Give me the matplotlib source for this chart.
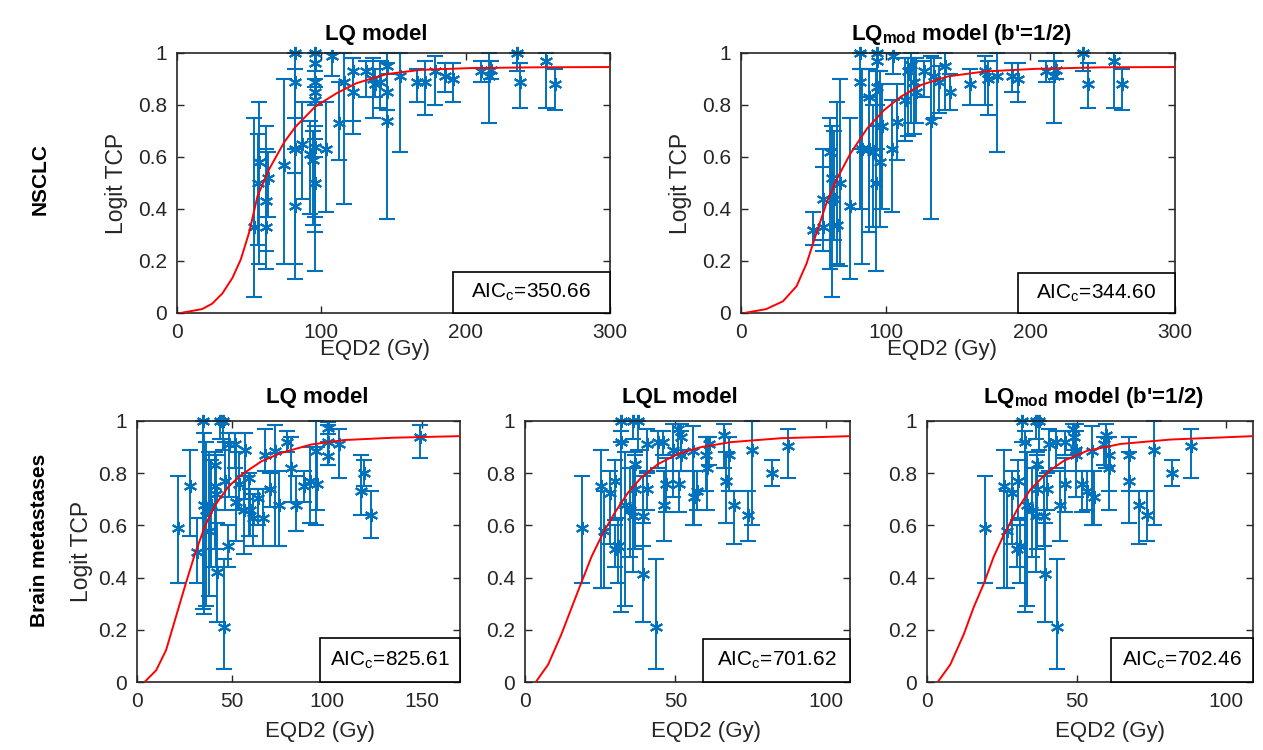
"""TCP 数据与模型拟合曲线（NSCLC / 脑转移），仿 MATLAB 风格。"""

import matplotlib

matplotlib.use("Agg")

import matplotlib.pyplot as plt
from matplotlib.patches import Rectangle
import numpy as np

plt.rcParams["font.family"] = ["Liberation Sans", "DejaVu Sans"]
plt.rcParams["mathtext.fontset"] = "custom"
plt.rcParams["mathtext.rm"] = "Liberation Sans"
plt.rcParams["mathtext.bf"] = "Liberation Sans:bold"
plt.rcParams["mathtext.it"] = "Liberation Sans:italic"

BLUE = "#0072BD"
INK = "#262626"

# ---- NSCLC, LQ model ----
nsclc_lq_x = [53.5, 56.5, 55.8, 61.6, 61.6, 62.8, 74.4, 82.1, 82.1, 82.1, 82.1, 86.7, 91.9, 94.2,
              95.8, 95.8, 95.8, 95.8, 95.8, 95.8, 95.8, 103.5, 107.7, 112.1, 115.6, 121.6, 122.1,
              130.7, 136.0, 137.2, 140.7, 145.3, 145.3, 145.3, 154.2, 166.3, 172.1, 178.6, 186.0,
              191.4, 210.5, 216.3, 217.4, 235.6, 237.9, 255.8, 262.1]
nsclc_lq_y = [0.33, 0.58, 0.50, 0.43, 0.33, 0.52, 0.57, 1.00, 0.89, 0.63, 0.41, 0.65, 0.61, 0.59,
              1.00, 0.96, 0.89, 0.85, 0.82, 0.50, 0.64, 0.63, 0.99, 0.73, 0.89, 0.93, 0.85,
              0.93, 0.90, 0.88, 0.89, 0.95, 0.85, 0.74, 0.91, 0.89, 0.89, 0.93, 0.91,
              0.90, 0.93, 0.91, 0.935, 1.00, 0.89, 0.97, 0.88]
nsclc_lq_lo = [0.06, 0.19, 0.26, 0.17, 0.24, 0.37, 0.19, 0.63, 0.54, 0.13, 0.19, 0.44, 0.38, 0.34,
               0.80, 0.72, 0.67, 0.60, 0.31, 0.16, 0.37, 0.39, 0.91, 0.59, 0.42, 0.69, 0.74,
               0.83, 0.75, 0.83, 0.79, 0.78, 0.78, 0.36, 0.62, 0.81, 0.76, 0.80, 0.85,
               0.81, 0.89, 0.73, 0.90, 0.93, 0.79, 0.79, 0.78]
nsclc_lq_hi = [0.75, 0.81, 0.69, 0.72, 0.63, 0.62, 0.90, 1.00, 0.94, 0.75, 0.54, 0.81, 0.74, 0.70,
               1.00, 1.00, 0.93, 0.90, 0.87, 0.81, 0.80, 0.81, 1.00, 0.89, 1.00, 0.98, 0.98,
               0.97, 0.98, 0.94, 0.97, 1.00, 0.92, 0.96, 1.00, 0.94, 0.97, 0.99, 0.96,
               0.96, 0.97, 1.00, 0.97, 1.00, 0.96, 1.00, 0.94]
nsclc_lq_curve_x = [2.3, 17.4, 24.4, 31.4, 38.4, 44.2, 50.0, 55.8, 64.0, 74.4, 82.1, 95.8, 110.5,
                    124.4, 145.3, 168.6, 203.5, 250.0, 300.0]
nsclc_lq_curve_y = [0.0, 0.015, 0.036, 0.075, 0.135, 0.206, 0.31, 0.45, 0.555, 0.658, 0.716, 0.794,
                    0.845, 0.884, 0.919, 0.935, 0.942, 0.945, 0.946]

# ---- NSCLC, LQmod model ----
nsclc_mod_x = [50.0, 57.0, 57.0, 61.6, 62.8, 64.0, 66.3, 68.6, 75.6, 82.1, 82.6, 83.7, 88.4, 88.4,
               91.4, 93.0, 94.2, 94.2, 94.2, 96.0, 97.2, 104.7, 105.3, 108.1, 113.5, 115.1, 117.4,
               119.8, 121.0, 126.3, 131.4, 133.7, 137.2, 140.7, 144.2, 158.1, 168.6, 170.9, 176.7,
               187.2, 191.4, 210.5, 216.3, 217.4, 236.7, 240.2, 257.7, 263.5]
nsclc_mod_y = [0.32, 0.33, 0.44, 0.62, 0.52, 0.44, 0.34, 0.50, 0.41, 1.00, 0.89, 0.63, 0.83, 0.63,
               0.62, 0.50, 1.00, 0.97, 0.87, 0.58, 0.72, 0.63, 0.99, 0.735, 0.82, 0.93, 0.955,
               0.89, 0.85, 0.93, 0.74, 0.91, 0.89, 0.95, 0.85, 0.88, 0.93, 0.90, 0.91,
               0.91, 0.90, 0.93, 0.91, 0.935, 1.00, 0.88, 0.97, 0.88]
nsclc_mod_lo = [0.26, 0.24, 0.28, 0.17, 0.06, 0.28, 0.19, 0.18, 0.13, 0.63, 0.40, 0.19, 0.31, 0.31,
                0.33, 0.16, 0.80, 0.72, 0.63, 0.33, 0.40, 0.39, 0.92, 0.59, 0.66, 0.68, 0.73,
                0.69, 0.73, 0.83, 0.36, 0.75, 0.77, 0.78, 0.78, 0.80, 0.80, 0.76, 0.62,
                0.85, 0.81, 0.89, 0.73, 0.90, 0.93, 0.79, 0.79, 0.78]
nsclc_mod_hi = [0.39, 0.56, 0.63, 0.75, 0.72, 0.70, 0.81, 0.90, 0.75, 1.00, 0.94, 0.94, 0.94, 0.83,
                0.80, 0.93, 1.00, 1.00, 0.93, 0.93, 0.88, 0.82, 1.00, 0.88, 0.98, 0.98, 1.00,
                0.98, 0.98, 0.97, 0.99, 0.98, 0.95, 1.00, 0.92, 0.94, 0.99, 0.97, 1.00,
                0.96, 0.96, 0.97, 1.00, 0.97, 1.00, 0.96, 1.00, 0.94]
nsclc_mod_curve_x = [2.3, 17.4, 29.0, 38.4, 45.3, 52.3, 59.3, 66.3, 75.6, 87.2, 98.8, 110.5, 124.4,
                     143.0, 168.6, 203.5, 250.0, 300.0]
nsclc_mod_curve_y = [0.0, 0.015, 0.045, 0.103, 0.19, 0.31, 0.426, 0.516, 0.613, 0.71, 0.78, 0.832,
                     0.877, 0.91, 0.929, 0.939, 0.945, 0.946]

# ---- Brain metastases, LQ model ----
brain_lq_x = [21.4, 27.8, 31.8, 34.7, 35.2, 36.1, 37.8, 38.7, 41.0, 41.0, 41.7, 42.2, 43.9, 45.1,
              45.7, 46.5, 47.7, 48.3, 51.4, 52.1, 53.5, 56.1, 57.0, 58.7, 59.5, 61.3, 63.9, 66.5,
              67.4, 70.0, 72.6, 74.7, 79.0, 80.9, 83.9, 87.8, 90.8, 94.3, 94.8, 100.3, 100.3,
              100.3, 106.1, 117.7, 119.4, 123.4, 149.0]
brain_lq_y = [0.59, 0.75, 0.50, 1.00, 0.68, 0.66, 0.58, 0.68, 0.83, 0.75, 0.72, 0.42, 1.00, 1.00,
              0.21, 0.77, 0.52, 0.91, 0.91, 0.69, 0.76, 0.66, 0.89, 0.78, 0.66, 0.63, 0.705, 0.63,
              0.87, 0.74, 0.885, 0.68, 0.92, 0.82, 0.68, 0.75, 0.77, 0.885, 0.76, 0.92, 0.975,
              0.865, 0.91, 0.73, 0.80, 0.64, 0.94]
brain_lq_lo = [0.38, 0.56, 0.38, 0.28, 0.26, 0.29, 0.33, 0.44, 0.66, 0.51, 0.44, 0.23, 0.93, 0.89,
               0.05, 0.66, 0.44, 0.71, 0.82, 0.54, 0.66, 0.49, 0.70, 0.56, 0.56, 0.52, 0.60, 0.52,
               0.81, 0.67, 0.52, 0.52, 0.88, 0.69, 0.58, 0.69, 0.61, 0.60, 0.66, 0.83, 0.95,
               0.83, 0.78, 0.64, 0.75, 0.55, 0.86]
brain_lq_hi = [0.79, 0.89, 0.63, 1.00, 0.955, 0.92, 0.88, 0.85, 0.88, 0.87, 0.87, 0.61, 1.00, 1.00,
               0.47, 0.92, 0.60, 0.955, 0.955, 0.88, 0.88, 0.79, 0.955, 0.80, 0.74, 0.72, 0.74, 0.74,
               0.97, 0.80, 0.985, 0.81, 0.96, 0.94, 0.79, 0.81, 0.90, 1.00, 0.90, 0.985, 0.995,
               0.92, 0.97, 0.87, 0.85, 0.73, 0.985]
brain_lq_curve_x = [4.0, 10.1, 15.3, 20.5, 25.7, 30.9, 36.1, 41.3, 48.3, 55.2, 65.6, 76.0, 91.7,
                    109.0, 135.0, 170.0]
brain_lq_curve_y = [0.0, 0.045, 0.122, 0.25, 0.378, 0.50, 0.603, 0.68, 0.75, 0.795, 0.846, 0.878,
                    0.91, 0.927, 0.936, 0.942]

# ---- Brain metastases, LQL and LQmod models (same TCP values) ----
brain_tcp_y = [0.59, 0.75, 0.58, 0.725, 0.51, 0.52, 0.77, 1.00, 0.92, 0.68, 0.66, 1.00, 1.00, 0.835,
               0.74, 0.635, 0.415, 0.635, 0.74, 0.91, 0.21, 0.92, 0.92, 0.68, 0.76, 0.89, 0.97, 0.76,
               0.87, 0.94, 0.885, 0.71, 0.73, 0.87, 0.82, 0.91, 0.945, 0.77, 0.87, 0.68, 0.64,
               0.89, 0.80, 0.905]
brain_tcp_lo = [0.38, 0.36, 0.36, 0.53, 0.44, 0.38, 0.62, 0.92, 0.27, 0.29, 0.48, 0.93, 0.89, 0.66,
                0.51, 0.42, 0.23, 0.52, 0.66, 0.81, 0.05, 0.82, 0.87, 0.54, 0.65, 0.71, 0.87, 0.65,
                0.81, 0.89, 0.60, 0.60, 0.66, 0.73, 0.66, 0.83, 0.82, 0.61, 0.73, 0.53, 0.54,
                0.60, 0.75, 0.78]
brain_tcp_hi = [0.79, 0.89, 0.73, 0.81, 0.60, 0.63, 0.85, 1.00, 0.96, 0.88, 0.82, 1.00, 1.00, 0.88,
                0.87, 0.82, 0.61, 0.79, 0.80, 0.97, 0.47, 0.96, 0.96, 0.81, 0.86, 0.99, 0.99, 0.81,
                0.96, 0.99, 0.98, 0.81, 0.81, 0.94, 0.94, 0.94, 0.99, 0.88, 0.94, 0.73, 0.73,
                1.00, 0.85, 0.97]
brain_lql_x = [19.1, 25.2, 26.3, 28.1, 29.8, 30.9, 30.0, 31.8, 32.0, 33.1, 34.8, 35.9, 37.5, 36.4,
               36.4, 35.9, 39.2, 39.2, 40.6, 40.6, 43.6, 44.2, 45.8, 46.1, 46.9, 49.1, 50.8, 51.3,
               51.9, 51.9, 55.7, 56.3, 57.2, 60.2, 60.5, 61.3, 66.2, 66.8, 67.9, 69.5, 74.0,
               75.6, 82.2, 87.4]
brain_lql_curve_x = [3.9, 7.7, 12.1, 16.0, 18.8, 22.1, 25.9, 29.8, 34.2, 38.6, 44.2, 50.8, 58.5,
                     68.4, 85.0, 108.0]
brain_lql_curve_y = [0.005, 0.067, 0.183, 0.30, 0.383, 0.48, 0.57, 0.648, 0.725, 0.783, 0.835,
                     0.874, 0.90, 0.919, 0.934, 0.942]
brain_mod_x = [19.3, 25.7, 26.6, 28.5, 30.1, 31.0, 30.4, 31.8, 32.7, 33.5, 35.2, 36.3, 37.4, 36.8,
               36.8, 36.3, 39.6, 39.1, 40.2, 40.7, 43.3, 43.0, 46.0, 44.6, 46.3, 49.7, 48.9, 51.9,
               49.7, 49.3, 55.2, 55.8, 53.6, 60.8, 60.8, 59.2, 59.7, 67.5, 67.5, 70.9, 73.7,
               75.9, 82.0, 88.2]
brain_mod_curve_x = [3.9, 7.8, 12.3, 15.6, 19.0, 22.3, 25.7, 30.1, 34.6, 40.2, 45.8, 53.6, 64.7,
                     81.5, 109.0]
brain_mod_curve_y = [0.005, 0.067, 0.183, 0.286, 0.377, 0.48, 0.564, 0.66, 0.738, 0.803, 0.848,
                     0.886, 0.912, 0.929, 0.942]

y_ticks = [0, 0.2, 0.4, 0.6, 0.8, 1]
y_tick_labels = ["0", "0.2", "0.4", "0.6", "0.8", "1"]


def px_axes(fig, left, right, top, bottom):
    W, H = 1263, 750
    return fig.add_axes([left / W, 1 - bottom / H, (right - left) / W, (bottom - top) / H])


def draw_panel(ax, x, y, lo, hi, cx, cy, xmax, xticks, title, title_xy, aic, box_x, box_h,
               xlabel_xy, ylabel_x=None):
    x, y, lo, hi = map(np.asarray, (x, y, lo, hi))
    ax.errorbar(x, y, yerr=[y - lo, hi - y], ls="none", marker=(6, 2, 0), ms=9.5, mew=1.5,
                color=BLUE, ecolor=BLUE, elinewidth=1.4, capsize=6, capthick=1.4,
                clip_on=False, zorder=2)
    ax.plot(cx, cy, color="red", lw=1.4, zorder=3)
    ax.set_xlim(0, xmax)
    ax.set_ylim(0, 1)
    ax.set_xticks(xticks)
    ax.set_yticks(y_ticks, y_tick_labels)
    ax.tick_params(direction="in", top=True, right=True, length=5, width=1.0, colors=INK,
                   labelsize=15, pad=7)
    for s in ax.spines.values():
        s.set_linewidth(1.2)
        s.set_color(INK)
    ax.text(title_xy[0], title_xy[1], title, transform=ax.transAxes, ha="center", va="baseline",
            fontsize=16, fontweight="bold", color="black")
    ax.set_xlabel("EQD2 (Gy)", fontsize=16, color=INK)
    ax.xaxis.set_label_coords(*xlabel_xy)
    if ylabel_x is not None:
        ax.set_ylabel("Logit TCP", fontsize=16.5, color=INK)
        ax.yaxis.set_label_coords(ylabel_x, 0.5)
    ax.add_patch(Rectangle((box_x, 0), 1 - box_x, box_h, transform=ax.transAxes, facecolor="white",
                           edgecolor="black", lw=1.2, zorder=5, clip_on=False))
    ax.text((1 + box_x) / 2, box_h / 2, r"AIC$_\mathrm{c}$=" + aic, transform=ax.transAxes,
            ha="center", va="center", fontsize=15, color="black", zorder=6)


fig = plt.figure(figsize=(12.63, 7.5), dpi=100)

ax1 = px_axes(fig, 177, 610, 53, 313)
draw_panel(ax1, nsclc_lq_x, nsclc_lq_y, nsclc_lq_lo, nsclc_lq_hi, nsclc_lq_curve_x,
           nsclc_lq_curve_y, 300, [0, 100, 200, 300], "LQ model", (0.46, 1.05), "350.66",
           0.637, 0.158, (0.457, -0.10), -0.113)

ax2 = px_axes(fig, 741, 1175, 53, 313)
draw_panel(ax2, nsclc_mod_x, nsclc_mod_y, nsclc_mod_lo, nsclc_mod_hi, nsclc_mod_curve_x,
           nsclc_mod_curve_y, 300, [0, 100, 200, 300], r"LQ$_\mathbf{mod}$ model (b'=1/2)",
           (0.509, 1.05), "344.60", 0.638, 0.154, (0.463, -0.10), -0.113)

ax3 = px_axes(fig, 137, 460, 421, 682)
draw_panel(ax3, brain_lq_x, brain_lq_y, brain_lq_lo, brain_lq_hi, brain_lq_curve_x,
           brain_lq_curve_y, 170, [0, 50, 100, 150], "LQ model", (0.557, 1.069), "825.61",
           0.567, 0.169, (0.567, -0.15), -0.136)

ax4 = px_axes(fig, 525, 850, 421, 682)
draw_panel(ax4, brain_lql_x, brain_tcp_y, brain_tcp_lo, brain_tcp_hi, brain_lql_curve_x,
           brain_lql_curve_y, 108, [0, 50, 100], "LQL model", (0.477, 1.069), "701.62",
           0.548, 0.166, (0.557, -0.15))

ax5 = px_axes(fig, 927, 1253, 421, 682)
draw_panel(ax5, brain_mod_x, brain_tcp_y, brain_tcp_lo, brain_tcp_hi, brain_mod_curve_x,
           brain_mod_curve_y, 109, [0, 50, 100], r"LQ$_\mathbf{mod}$ model (b'=1/2)",
           (0.512, 1.069), "702.46", 0.564, 0.167, (0.561, -0.15))

fig.text(40 / 1263, 1 - 179 / 750, "NSCLC", rotation=90, ha="center", va="center",
         fontsize=15, fontweight="bold")
fig.text(40 / 1263, 1 - 540 / 750, "Brain metastases", rotation=90, ha="center", va="center",
         fontsize=15, fontweight="bold")

fig.savefig("out.png", dpi=100, facecolor="white")
